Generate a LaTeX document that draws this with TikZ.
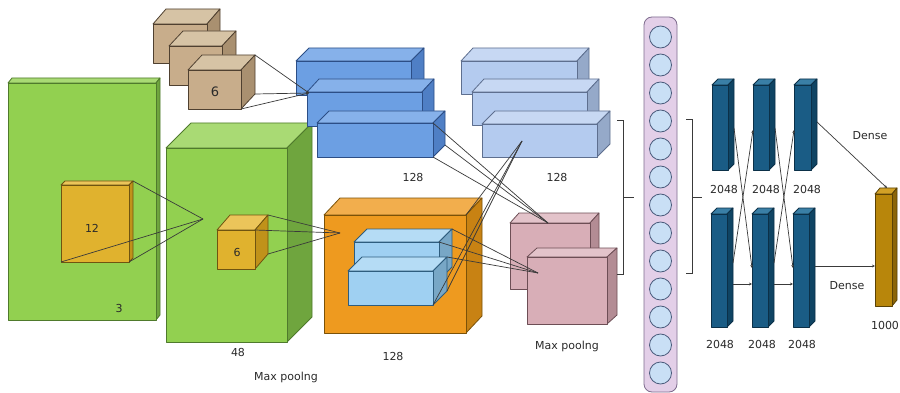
\documentclass[tikz,border=0pt]{standalone}
\usepackage{fontspec}
\setmainfont{DejaVu Sans}
\usetikzlibrary{calc,arrows.meta}
\definecolor{grnF}{HTML}{92D050}\definecolor{grnT}{HTML}{A9DA74}\definecolor{grnS}{HTML}{6FA53E}\definecolor{grnD}{HTML}{4F7A2C}
\definecolor{ylwF}{HTML}{E0B22E}\definecolor{ylwT}{HTML}{EBC55A}\definecolor{ylwS}{HTML}{C0921A}\definecolor{ylwD}{HTML}{6F5410}
\definecolor{brnF}{HTML}{C8AD8B}\definecolor{brnT}{HTML}{D6C3A5}\definecolor{brnS}{HTML}{A99070}\definecolor{brnD}{HTML}{4F4030}
\definecolor{bluF}{HTML}{6C9FE3}\definecolor{bluT}{HTML}{86B1EA}\definecolor{bluS}{HTML}{4F7FC5}\definecolor{bluD}{HTML}{2C4E86}
\definecolor{pblF}{HTML}{B4CBEF}\definecolor{pblT}{HTML}{C7D8F3}\definecolor{pblS}{HTML}{95A9C9}\definecolor{pblD}{HTML}{5E6F8F}
\definecolor{orgF}{HTML}{EE9A1F}\definecolor{orgT}{HTML}{F2AE4D}\definecolor{orgS}{HTML}{C88213}\definecolor{orgD}{HTML}{7B5208}
\definecolor{ilbF}{HTML}{9FD0F2}\definecolor{ilbT}{HTML}{B5DCF5}\definecolor{ilbS}{HTML}{78A7C6}\definecolor{ilbD}{HTML}{2E5D7E}
\definecolor{pnkF}{HTML}{D8AEB7}\definecolor{pnkT}{HTML}{E3C3CA}\definecolor{pnkS}{HTML}{B38C94}\definecolor{pnkD}{HTML}{6D4E55}
\definecolor{dnsF}{HTML}{1A5C85}\definecolor{dnsT}{HTML}{3A7FA6}\definecolor{dnsS}{HTML}{0F4463}\definecolor{dnsD}{HTML}{0B3048}
\definecolor{outF}{HTML}{B8860B}\definecolor{outT}{HTML}{D2A126}\definecolor{outS}{HTML}{8B6508}\definecolor{outD}{HTML}{5A4205}
\definecolor{colFill}{HTML}{E3CFE8}\definecolor{colDraw}{HTML}{7E6C8E}
\definecolor{cirFill}{HTML}{C9DFF5}\definecolor{cirDraw}{HTML}{4C5D7D}
\definecolor{lineC}{HTML}{3A3A3A}
\definecolor{txtC}{HTML}{2A2A2A}
\newcommand\mycuboid[8]{%
  \coordinate (#1-ftl) at (#2,#3);
  \coordinate (#1-ftr) at (#4,#3);
  \coordinate (#1-fbl) at (#2,#5);
  \coordinate (#1-fbr) at (#4,#5);
  \coordinate (#1-btl) at ($(#1-ftl)+(#6,-#7)$);
  \coordinate (#1-btr) at ($(#1-ftr)+(#6,-#7)$);
  \coordinate (#1-bbr) at ($(#1-fbr)+(#6,-#7)$);
  \filldraw[boxline,draw=#8D,fill=#8T] (#1-ftl) -- (#1-btl) -- (#1-btr) -- (#1-ftr) -- cycle;
  \filldraw[boxline,draw=#8D,fill=#8S] (#1-ftr) -- (#1-btr) -- (#1-bbr) -- (#1-fbr) -- cycle;
  \filldraw[boxline,draw=#8D,fill=#8F] (#1-ftl) rectangle (#1-fbr);
}
\begin{document}
\begin{tikzpicture}[x=1pt,y=-1pt,
  boxline/.style={line width=0.8pt,line join=round},
  lbl/.style={inner sep=0pt,text=txtC,font=\fontsize{11}{13}\selectfont},
  conv/.style={draw=lineC,line width=0.7pt},
  darr/.style={draw=lineC,line width=0.7pt,-{Stealth[length=3pt,width=2.8pt]}},
  brk/.style={draw=lineC,line width=0.8pt},
  neuron/.style={circle,draw=cirDraw,fill=cirFill,line width=0.8pt,minimum size=22pt,inner sep=0pt}]
\useasboundingbox (0,0) rectangle (900,393);
\fill[white] (0,0) rectangle (900,393);
% brown cubes
\mycuboid{bA}{153}{24}{207}{63}{13}{15}{brn}
\mycuboid{bB}{169}{46}{222}{85}{14}{15}{brn}
\mycuboid{bC}{188}{70}{241}{109}{14}{15}{brn}
\node[lbl,font=\fontsize{13}{15}\selectfont] (l6a) at (215,92) {6};
% green 1
\mycuboid{gA}{8}{83}{156}{320}{4}{5}{grn}
\mycuboid{yA}{61}{185}{129}{262}{4}{4}{ylw}
\node[lbl] (l12) at (92,228) {12};
\node[lbl] (l3) at (119,308) {3};
% green 2
\mycuboid{gB}{166}{148}{287}{342}{25}{25}{grn}
\coordinate (gBp) at (203,219);
\draw[conv] (yA-btr) -- (gBp);
\draw[conv] (yA-fbl) -- (gBp);
\draw[conv] (yA-fbr) -- (gBp);
\mycuboid{yB}{217}{230}{255}{269}{13}{15}{ylw}
\node[lbl] (l6b) at (237,252) {6};
\node[lbl] (l48) at (238,352) {48};
\node[lbl] (lmp1) at (286,377) {Max poolng};
% blue boxes
\mycuboid{uA}{296}{61}{411}{95}{13}{13}{blu}
\mycuboid{uB}{307}{92}{422}{126}{12}{13}{blu}
\mycuboid{uC}{317}{123}{433}{157}{12}{12}{blu}
\node[lbl] (l128a) at (413,177) {128};
\coordinate (uBp) at (309,93);
\draw[darr] (bC-btr) -- (uBp);
\draw[darr] (bC-bbr) -- (uBp);
\draw[darr] (bC-fbr) -- (uBp);
% pale blue boxes
\mycuboid{pA}{461}{61}{577}{94}{12}{13}{pbl}
\mycuboid{pB}{472}{92}{587}{125}{12}{13}{pbl}
\mycuboid{pC}{482}{124}{597}{157}{13}{13}{pbl}
\node[lbl] (l128b) at (557,177) {128};
\coordinate (pCp) at (522,141);
% orange
\mycuboid{oA}{324}{215}{466}{333}{16}{17}{org}
\coordinate (oAp) at (340,233);
\draw[conv] (yB-btr) -- (oAp);
\draw[conv] (yB-ftr) -- (oAp);
\draw[conv] (yB-bbr) -- (oAp);
\mycuboid{iA}{354}{242}{439}{280}{13}{13}{ilb}
\mycuboid{iB}{348}{271}{433}{305}{14}{14}{ilb}
\node[lbl] (l128c) at (393,356) {128};
% pink
\mycuboid{kA}{510}{223}{590}{289}{9}{10}{pnk}
\mycuboid{kB}{527}{257}{607}{324}{10}{9}{pnk}
\node[lbl] (lmp2) at (567,346) {Max poolng};
\coordinate (kAp) at (548,223);
\coordinate (kBp) at (538,273);
\draw[conv] (uC-ftr) -- (kAp);
\draw[conv] (uC-bbr) -- (kAp);
\draw[conv] (uC-fbr) -- (kAp);
\draw[conv] (pCp) -- (oA-ftr);
\draw[conv] (pCp) -- (iB-bbr);
\draw[conv] (pCp) -- (iB-fbr);
\draw[conv] (iA-btr) -- (kBp);
\draw[conv] (iA-ftr) -- (kBp);
\draw[conv] (iB-btr) -- (kBp);
% brackets
\coordinate (brA1) at (617,120); \coordinate (brA2) at (617,274); \coordinate (brAm) at (634,197);
\draw[brk] (brA1) -| (623,274) -- (brA2);
\draw[brk] (623,197) -- (brAm);
\coordinate (brB1) at (686,119); \coordinate (brB2) at (686,273); \coordinate (brBm) at (702,197);
\draw[brk] (brB1) -| (692,273) -- (brB2);
\draw[brk] (692,197) -- (brBm);
% neuron column
\node[draw=colDraw,fill=colFill,line width=0.8pt,rounded corners=8pt,minimum width=33pt,minimum height=375pt,inner sep=0pt] (col) at (660.5,204.5) {};
\foreach \i in {0,...,12}{
  \node[neuron] (n\i) at (660.5,{37+28*\i}) {};
}
% dense bars
\mycuboid{tA}{712}{85}{728}{170}{6}{6}{dns}
\mycuboid{tB}{753}{85}{769}{170}{6}{6}{dns}
\mycuboid{tC}{794}{85}{811}{170}{6}{6}{dns}
\mycuboid{dA}{711}{214}{727}{327}{6}{6}{dns}
\mycuboid{dB}{752}{214}{768}{327}{6}{6}{dns}
\mycuboid{dC}{793}{214}{809}{327}{6}{6}{dns}
\mycuboid{oo}{875}{194}{892}{306}{5}{6}{out}
\node[lbl] (t1) at (724,189) {2048};
\node[lbl] (t2) at (766,189) {2048};
\node[lbl] (t3) at (807,189) {2048};
\node[lbl] (d1) at (720,344) {2048};
\node[lbl] (d2) at (762,344) {2048};
\node[lbl] (d3) at (802,344) {2048};
\node[lbl] (l1000) at (885,325) {1000};
\node[lbl] (dense1) at (870,136) {Dense};
\node[lbl] (dense2) at (847,286) {Dense};
% dense connectors
\coordinate (tAo) at (734,128); \coordinate (tBo) at (775,128); \coordinate (tCo) at (817,122);
\coordinate (tBi) at (753,130); \coordinate (tCi) at (794,130);
\coordinate (dAo1) at (733,263); \coordinate (dBo1) at (774,263); \coordinate (dCo) at (815,266);
\coordinate (dBi1) at (752,268); \coordinate (dCi1) at (793,268);
\coordinate (dAo2) at (733,284); \coordinate (dBo2) at (774,284);
\coordinate (dBi2) at (752,284); \coordinate (dCi2) at (793,284);
\coordinate (ooT) at (887,188); \coordinate (ooL) at (875,266);
\draw[darr] (tAo) -- (dBi1);
\draw[darr] (dAo1) -- (tBi);
\draw[darr] (tBo) -- (dCi1);
\draw[darr] (dBo1) -- (tCi);
\draw[darr] (dAo2) -- (dBi2);
\draw[darr] (dBo2) -- (dCi2);
\draw[darr] (tCo) -- (ooT);
\draw[darr] (dCo) -- (ooL);
\end{tikzpicture}
\end{document}
